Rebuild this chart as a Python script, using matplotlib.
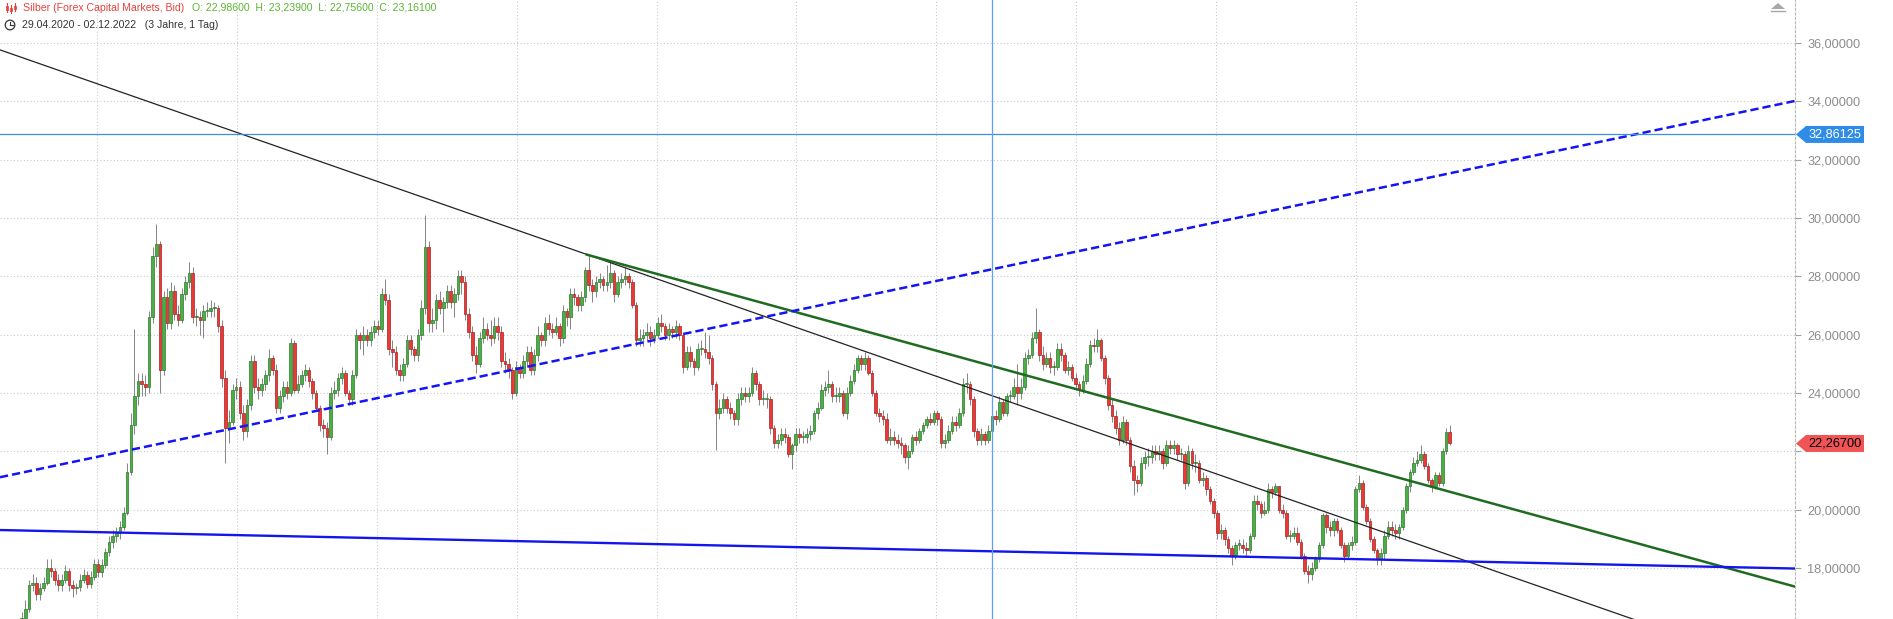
import numpy as np
import matplotlib
matplotlib.use("Agg")
import matplotlib.pyplot as plt
from matplotlib.patches import Polygon, Circle
from matplotlib.lines import Line2D
import matplotlib.transforms as mtransforms

plt.rcParams['font.family'] = ['Liberation Sans', 'DejaVu Sans']

# ---------------- data ----------------
title = "Silber (Forex Capital Markets, Bid)"
ohlc_text = "O: 22,98600  H: 23,23900  L: 22,75600  C: 23,16100"
range_text = "29.04.2020 - 02.12.2022   (3 Jahre, 1 Tag)"

first_open = 15.2
close = [
    15.3, 15.1, 15.4, 15.6, 15.5, 16.0, 16.3, 16.6, 17.4, 17.5,
    17.1, 17.3, 17.5, 18.0, 17.9, 17.6, 17.4, 17.6, 17.9, 17.4,
    17.3, 17.35, 17.6, 17.75, 17.45, 17.7, 18.15, 17.85, 18.1, 18.55,
    18.9, 19.1, 19.2, 19.4, 19.9, 21.3, 22.9, 23.9, 24.4, 24.3,
    24.2, 26.6, 28.7, 29.1, 24.8, 27.3, 26.4, 27.5, 26.7, 26.5,
    27.4, 27.8, 28.1, 26.6, 26.6, 26.5, 26.8, 26.8, 26.9, 26.9,
    26.3, 24.5, 22.8, 23.0, 24.1, 24.2, 23.3, 22.7, 23.6, 25.1,
    24.2, 24.1, 24.3, 24.6, 25.2, 24.8, 23.5, 23.9, 24.2, 24.0,
    25.7, 24.1, 24.3, 24.6, 24.8, 24.4, 24.0, 23.5, 22.9, 22.8,
    22.5, 24.0, 24.1, 24.5, 24.7, 24.0, 23.8, 24.6, 26.0, 25.8,
    26.0, 25.8, 26.1, 26.3, 26.2, 27.4, 27.2, 25.5, 25.4, 24.8,
    24.6, 25.0, 25.8, 25.5, 25.3, 26.0, 26.9, 29.0, 26.4, 26.5,
    27.2, 26.9, 27.1, 27.5, 27.1, 27.4, 28.0, 27.8, 26.7, 26.1,
    25.3, 25.0, 25.9, 26.2, 26.0, 25.9, 26.3, 26.1, 25.1, 25.0,
    24.8, 24.0, 24.9, 24.7, 25.1, 25.4, 24.8, 25.3, 26.0, 25.8,
    26.4, 26.2, 26.1, 26.3, 25.9, 26.8, 26.6, 27.4, 27.3, 27.0,
    27.3, 28.2, 27.7, 27.5, 27.8, 27.9, 27.7, 27.8, 28.1, 27.4,
    27.8, 27.9, 28.0, 27.8, 27.0, 25.8, 25.9, 26.0, 26.1, 25.9,
    26.0, 26.4, 26.3, 26.0, 26.2, 26.1, 26.3, 26.0, 24.9, 25.4,
    25.1, 24.9, 25.5, 25.5, 25.4, 25.2, 24.3, 23.3, 23.5, 23.8,
    23.5, 23.3, 23.1, 23.8, 24.0, 23.9, 24.0, 24.7, 24.3, 23.8,
    23.8, 23.8, 22.8, 22.3, 22.4, 22.6, 22.5, 21.9, 22.2, 22.6,
    22.5, 22.5, 22.6, 22.7, 23.3, 23.5, 24.1, 24.2, 24.3, 23.9,
    23.9, 24.0, 23.3, 24.0, 24.4, 24.8, 25.2, 25.0, 25.2, 24.7,
    24.0, 23.3, 23.2, 23.1, 22.4, 22.5, 22.4, 22.3, 22.2, 21.8,
    22.0, 22.5, 22.4, 22.7, 22.9, 23.1, 23.0, 23.3, 23.1, 22.3,
    22.4, 22.7, 23.0, 22.9, 23.3, 24.3, 24.3, 23.8, 22.7, 22.4,
    22.6, 22.4, 22.7, 23.2, 23.1, 23.7, 23.3, 23.9, 23.9, 24.2,
    24.0, 24.2, 25.2, 25.3, 25.9, 26.1, 25.3, 25.0, 25.2, 24.9,
    24.9, 25.5, 25.3, 24.8, 24.9, 24.5, 24.3, 24.1, 24.4, 25.0,
    25.65, 25.6, 25.8, 25.2, 24.5, 23.6, 23.2, 22.8, 22.4, 23.0,
    22.4, 21.5, 21.0, 20.9, 21.6, 21.8, 21.8, 22.0, 21.9, 22.0,
    21.6, 22.2, 22.1, 22.2, 21.9, 21.9, 20.9, 22.0, 21.6, 21.6,
    21.0, 21.1, 20.7, 20.3, 19.9, 19.2, 19.3, 19.0, 18.7, 18.4,
    18.8, 18.8, 18.7, 18.6, 19.1, 20.3, 20.2, 19.9, 20.0, 20.7,
    20.6, 20.8, 20.0, 19.9, 19.1, 19.1, 19.2, 18.9, 18.4, 17.9,
    17.8, 18.0, 18.3, 18.8, 19.8, 19.4, 19.3, 19.6, 19.3, 18.8,
    18.4, 18.8, 18.9, 20.7, 20.9, 20.1, 19.6, 19.0, 18.6, 18.3,
    18.5, 19.1, 19.4, 19.3, 19.2, 19.4, 20.0, 20.8, 21.3, 21.6,
    21.7, 21.9, 21.5, 21.0, 20.8, 21.2, 20.9, 22.0, 22.65, 22.267,
]
high = [
    15.5, 15.4, 15.6, 15.8, 15.8, 16.2, 16.5, 16.9, 17.6, 17.8,
    17.7, 17.5, 17.7, 18.3, 18.3, 18.0, 17.8, 17.8, 18.1, 18.0,
    17.6, 17.5, 17.8, 17.95, 17.9, 17.9, 18.3, 18.3, 18.3, 18.7,
    19.1, 19.3, 19.4, 19.6, 20.1, 21.6, 23.3, 26.2, 24.7, 24.7,
    24.6, 26.8, 29.0, 29.8, 29.2, 27.5, 27.6, 27.8, 27.7, 27.0,
    27.6, 28.0, 28.5, 28.3, 26.9, 26.8, 27.0, 27.1, 27.2, 27.1,
    27.0, 26.5, 24.8, 23.4, 24.3, 24.5, 24.4, 23.6, 23.8, 25.3,
    25.3, 24.5, 24.5, 24.8, 25.5, 25.3, 25.0, 24.1, 24.4, 24.4,
    25.9, 25.8, 24.6, 24.8, 25.0, 24.9, 24.5, 24.1, 23.6, 23.1,
    23.0, 24.2, 24.4, 24.7, 24.9, 24.8, 24.1, 24.8, 26.2, 26.1,
    26.3, 26.2, 26.3, 26.5, 26.5, 27.6, 27.9, 27.4, 25.8, 25.6,
    25.0, 25.2, 26.0, 26.0, 25.6, 26.2, 27.2, 30.1, 29.2, 26.9,
    27.4, 27.5, 27.3, 27.7, 27.7, 27.6, 28.2, 28.2, 28.0, 26.9,
    26.3, 25.6, 26.1, 26.6, 26.4, 26.5, 26.6, 26.6, 26.3, 25.4,
    25.2, 24.9, 25.1, 25.0, 25.3, 25.6, 25.6, 25.5, 26.3, 26.1,
    26.6, 26.7, 26.4, 26.6, 26.4, 27.0, 26.9, 27.6, 27.6, 27.4,
    27.5, 28.3, 28.74, 27.9, 28.0, 28.1, 28.0, 28.4, 28.5, 28.2,
    28.0, 28.1, 28.3, 28.1, 27.9, 27.1, 26.2, 26.2, 26.4, 26.3,
    26.2, 26.6, 26.7, 26.4, 26.4, 26.3, 26.5, 26.4, 26.1, 25.6,
    25.6, 25.2, 25.7, 25.8, 26.1, 26.0, 25.3, 24.4, 23.8, 24.0,
    23.9, 23.7, 23.4, 24.0, 24.2, 24.2, 24.2, 24.9, 24.8, 24.4,
    24.1, 24.0, 23.9, 22.9, 22.6, 22.8, 22.8, 22.6, 22.3, 22.8,
    22.8, 22.7, 22.8, 22.9, 23.4, 23.7, 24.3, 24.4, 24.8, 24.4,
    24.2, 24.2, 24.1, 24.2, 24.6, 25.0, 25.3, 25.3, 25.4, 25.3,
    24.8, 24.1, 23.5, 23.4, 23.3, 22.8, 22.7, 22.6, 22.5, 22.3,
    22.2, 22.6, 22.7, 22.8, 23.0, 23.2, 23.3, 23.4, 23.4, 23.2,
    22.6, 22.9, 23.2, 23.2, 23.5, 24.5, 24.7, 24.4, 23.9, 22.8,
    22.8, 22.7, 22.9, 23.5, 23.4, 23.9, 23.8, 24.0, 24.1, 24.5,
    25.0, 24.5, 25.4, 25.5, 26.1, 26.9, 26.2, 25.6, 25.4, 25.4,
    25.1, 25.7, 25.7, 25.4, 25.1, 25.0, 24.7, 24.4, 24.6, 25.2,
    25.8, 25.9, 26.2, 25.9, 25.3, 24.6, 23.8, 23.4, 23.0, 23.2,
    23.1, 22.5, 21.7, 21.2, 21.8, 22.0, 22.1, 22.2, 22.2, 22.2,
    22.1, 22.4, 22.4, 22.4, 22.3, 22.1, 22.0, 22.2, 22.1, 21.9,
    21.7, 21.3, 21.2, 20.8, 20.4, 20.0, 19.5, 19.4, 19.1, 18.8,
    18.9, 19.0, 19.0, 18.9, 19.2, 20.5, 20.5, 20.3, 20.3, 20.9,
    20.8, 20.9, 20.8, 20.2, 20.0, 19.3, 19.4, 19.4, 19.0, 18.5,
    18.1, 18.2, 18.4, 18.9, 19.9, 19.9, 19.6, 19.7, 19.7, 19.4,
    18.9, 18.9, 19.1, 20.8, 21.2, 21.0, 20.2, 19.7, 19.1, 18.7,
    18.7, 19.3, 19.6, 19.6, 19.5, 19.5, 20.1, 20.9, 21.4, 21.8,
    22.0, 22.2, 22.0, 21.6, 21.1, 21.3, 21.3, 22.1, 22.8, 22.9,
]
low = [
    15.0, 14.9, 15.0, 15.3, 15.3, 15.4, 15.8, 16.1, 16.5, 17.2,
    16.9, 16.9, 17.2, 17.4, 17.7, 17.4, 17.2, 17.2, 17.5, 17.2,
    17.0, 17.1, 17.2, 17.5, 17.3, 17.3, 17.6, 17.7, 17.7, 18.0,
    18.4, 18.7, 18.9, 19.0, 19.3, 19.8, 21.2, 22.6, 23.6, 23.9,
    23.9, 24.0, 26.4, 28.3, 24.0, 24.6, 26.2, 26.2, 26.5, 26.3,
    26.4, 27.2, 27.6, 26.4, 26.3, 26.0, 25.9, 26.6, 26.6, 26.6,
    26.1, 24.2, 21.6, 22.3, 22.9, 23.8, 23.1, 22.4, 22.5, 23.4,
    24.0, 23.8, 23.9, 24.1, 24.4, 24.6, 23.3, 23.3, 23.7, 23.8,
    23.9, 24.0, 24.0, 24.2, 24.4, 24.2, 23.8, 23.4, 22.7, 22.5,
    21.9, 22.4, 23.8, 23.9, 24.3, 23.9, 23.6, 23.6, 24.5, 25.5,
    25.3, 25.6, 25.6, 25.9, 26.0, 26.1, 27.0, 25.3, 24.9, 24.6,
    24.4, 24.4, 24.9, 25.3, 25.1, 25.1, 25.8, 26.7, 26.1, 26.1,
    26.2, 26.7, 26.1, 26.9, 26.9, 26.6, 27.2, 27.4, 26.5, 25.9,
    25.1, 24.7, 24.9, 25.7, 25.8, 25.6, 25.7, 25.8, 24.9, 24.7,
    24.5, 23.8, 23.9, 24.5, 24.5, 24.9, 24.6, 24.6, 25.1, 25.6,
    25.6, 26.0, 25.9, 26.0, 25.6, 25.7, 26.3, 26.2, 27.0, 26.8,
    26.8, 27.1, 27.5, 27.1, 27.3, 27.6, 27.5, 27.5, 27.6, 27.1,
    27.3, 27.6, 27.7, 27.6, 26.9, 25.6, 25.6, 25.6, 25.8, 25.6,
    25.7, 25.9, 26.1, 25.8, 25.8, 25.9, 25.9, 25.8, 24.7, 24.8,
    24.9, 24.6, 24.8, 25.3, 25.2, 25.0, 24.1, 22.06, 23.1, 23.3,
    23.3, 23.1, 22.9, 22.9, 23.6, 23.7, 23.7, 23.9, 24.1, 23.6,
    23.6, 23.5, 22.6, 22.1, 22.1, 22.2, 22.3, 21.8, 21.4, 22.0,
    22.3, 22.3, 22.3, 22.4, 22.6, 23.1, 23.4, 23.9, 24.0, 23.7,
    23.7, 23.7, 23.2, 23.1, 23.9, 24.3, 24.7, 24.8, 24.8, 24.6,
    23.9, 23.2, 23.0, 22.9, 22.3, 22.2, 22.2, 22.1, 21.9, 21.6,
    21.4, 21.9, 22.2, 22.3, 22.6, 22.8, 22.9, 22.9, 22.9, 22.1,
    22.1, 22.3, 22.6, 22.7, 22.8, 23.2, 24.0, 23.6, 22.5, 22.2,
    22.2, 22.2, 22.3, 22.6, 22.9, 23.0, 23.2, 23.2, 23.7, 23.8,
    23.6, 23.8, 24.1, 25.0, 25.2, 25.7, 25.1, 24.8, 24.9, 24.7,
    24.6, 24.8, 25.1, 24.7, 24.6, 24.4, 24.1, 23.9, 24.0, 24.3,
    24.9, 25.4, 25.4, 25.1, 24.3, 23.4, 23.0, 22.6, 22.2, 22.3,
    22.2, 21.3, 20.5, 20.6, 20.8, 21.4, 21.5, 21.6, 21.7, 21.7,
    21.4, 21.5, 21.9, 21.9, 21.7, 21.7, 20.7, 20.8, 21.4, 21.3,
    20.9, 20.8, 20.5, 20.2, 19.7, 19.0, 19.0, 18.8, 18.5, 18.1,
    18.3, 18.6, 18.5, 18.4, 18.5, 19.0, 20.0, 19.7, 19.8, 19.9,
    20.4, 20.5, 19.9, 19.7, 19.0, 18.9, 19.0, 18.8, 18.3, 17.8,
    17.5, 17.6, 17.9, 18.2, 18.7, 19.2, 19.1, 19.1, 19.2, 18.7,
    18.2, 18.3, 18.6, 18.8, 20.6, 20.0, 19.5, 18.9, 18.5, 18.1,
    18.1, 18.3, 19.0, 19.1, 19.0, 19.0, 19.3, 19.9, 20.6, 21.2,
    21.5, 21.6, 21.4, 20.9, 20.6, 20.7, 20.8, 20.8, 21.9, 22.2,
]

y_ticks = [18, 20, 22, 24, 26, 28, 30, 32, 34, 36]
y_min, y_max = 16.25, 37.47
x_max = 494.0

black_x, black_y = [0, 494], [35.76, 14.31]
green_x, green_y = [161.5, 494], [28.74, 17.36]
dash_x, dash_y = [0, 494], [21.11, 34.01]
support_x, support_y = [0, 494], [19.30, 17.98]
h_level = 32.86125
v_bar = 273
last_price = 22.267

# ---------------- figure ----------------
W, H = 1893, 619
fig = plt.figure(figsize=(W / 100, H / 100), dpi=100)
fig.patch.set_facecolor('white')
ax = fig.add_axes([0, 0, 1795 / W, 1])
ax.set_xlim(0, x_max)
ax.set_ylim(y_min, y_max)

# grid
for yv in y_ticks:
    ax.axhline(yv, color='#c9c9c9', lw=0.8, ls=(0, (1, 2)), zorder=0)
for k in range(10):
    ax.axvline(26.7 + 38.5 * k, color='#c9c9d4', lw=0.8, ls=(0, (1, 2)), zorder=0)

# candles
c = np.array(close)
o = np.r_[first_open, c[:-1]]
hi = np.maximum(np.array(high), np.maximum(o, c))
lo = np.minimum(np.array(low), np.minimum(o, c))
x = np.arange(len(c))
up = c >= o
ax.vlines(x, lo, hi, color='#707070', lw=0.6, zorder=2)
body = np.maximum(np.abs(c - o), 0.04)
bottom = np.minimum(o, c)
ax.bar(x[up], body[up], bottom=bottom[up], width=0.72, color='#4caf45',
       edgecolor='#2a7a2a', linewidth=0.5, zorder=3)
ax.bar(x[~up], body[~up], bottom=bottom[~up], width=0.72, color='#ea3a36',
       edgecolor='#a52020', linewidth=0.5, zorder=3)

# drawn lines
ax.plot(black_x, black_y, color='#222222', lw=0.9, zorder=4)
ax.plot(green_x, green_y, color='#1f6b1f', lw=1.8, zorder=4)
ax.plot(dash_x, dash_y, color='#1414f5', lw=1.8, dashes=(3.3, 1.6), zorder=4)
ax.plot(support_x, support_y, color='#1414ee', lw=1.7, zorder=4)
ax.axhline(h_level, color='#3d8fe6', lw=0.9, zorder=4)
ax.axvline(v_bar, color='#5aa2ee', lw=0.9, zorder=4)

# axes styling
for s in ['top', 'left', 'bottom']:
    ax.spines[s].set_visible(False)
ax.spines['right'].set_color('#b8b8b8')
ax.spines['right'].set_linestyle((0, (2, 2)))
ax.spines['right'].set_linewidth(0.8)
ax.set_xticks([])
ax.yaxis.tick_right()
ax.set_yticks(y_ticks)
ax.set_yticklabels(['' if v == 22 else f"{v:.5f}".replace('.', ',') for v in y_ticks])
ax.tick_params(axis='y', length=4, width=0.8, color='#a0a0a0', labelcolor='#8c8c8c',
               labelsize=9.2, pad=5)

# price tags on the axis
trans = mtransforms.blended_transform_factory(fig.transFigure, ax.transData)
hh = 8.5 / 29.17


def tag(price, fc, tc, text):
    x0, x1, x2 = 1796 / W, 1806 / W, 1864 / W
    poly = Polygon([[x0, price], [x1, price + hh], [x2, price + hh],
                    [x2, price - hh], [x1, price - hh]], closed=True,
                   transform=trans, fc=fc, ec='none', zorder=10, clip_on=False)
    fig.add_artist(poly)
    fig.text(1835 / W, price, text, transform=trans, ha='center', va='center',
             color=tc, fontsize=9.2, zorder=11)


tag(h_level, '#2f8ce6', 'white', f"{h_level:.5f}".replace('.', ','))
tag(last_price, '#f05454', 'black', f"{last_price:.5f}".replace('.', ','))

# header
fig.text(23 / W, 1 - 8 / H, title, color='#e8413c', fontsize=7.6, va='center', ha='left')
fig.text(192 / W, 1 - 8 / H, ohlc_text, color='#5cb532', fontsize=7.6, va='center', ha='left')
fig.text(22 / W, 1 - 25 / H, range_text, color='#333333', fontsize=7.6, va='center', ha='left')

# small icons (candle icon, clock, collapse arrow) in pixel-based inches
px = fig.dpi_scale_trans  # 1 unit = 1 inch = 100 px


def P(xp, yp):
    return (xp / 100, (H - yp) / 100)


for dx, y0, y1 in [(7, 3, 12), (11, 5, 13), (15, 3, 11)]:
    fig.add_artist(Line2D([dx / 100, dx / 100], [(H - y0) / 100, (H - y1) / 100],
                          color='#e8413c', lw=0.8, transform=px))
    fig.add_artist(Polygon([P(dx - 1.3, y0 + 2.5), P(dx + 1.3, y0 + 2.5),
                            P(dx + 1.3, y1 - 2.5), P(dx - 1.3, y1 - 2.5)],
                           closed=True, fill=False, ec='#e8413c', lw=0.6, transform=px))
fig.add_artist(Circle(P(10, 25), 0.048, transform=px, fill=False, ec='#333333', lw=0.9))
fig.add_artist(Line2D([0.10, 0.10], [(H - 25) / 100, (H - 21.5) / 100], color='#333333',
                      lw=0.8, transform=px))
fig.add_artist(Line2D([0.10, 0.125], [(H - 25) / 100, (H - 25) / 100], color='#333333',
                      lw=0.8, transform=px))
fig.add_artist(Polygon([P(1771, 9), P(1785, 9), P(1778, 3)],
                       closed=True, fc='#a8a8a8', ec='none', transform=px))
fig.add_artist(Line2D([17.71, 17.85], [(H - 11) / 100, (H - 11) / 100], color='#a8a8a8',
                      lw=1.0, transform=px))

fig.savefig('out.png', dpi=100, facecolor='white')
